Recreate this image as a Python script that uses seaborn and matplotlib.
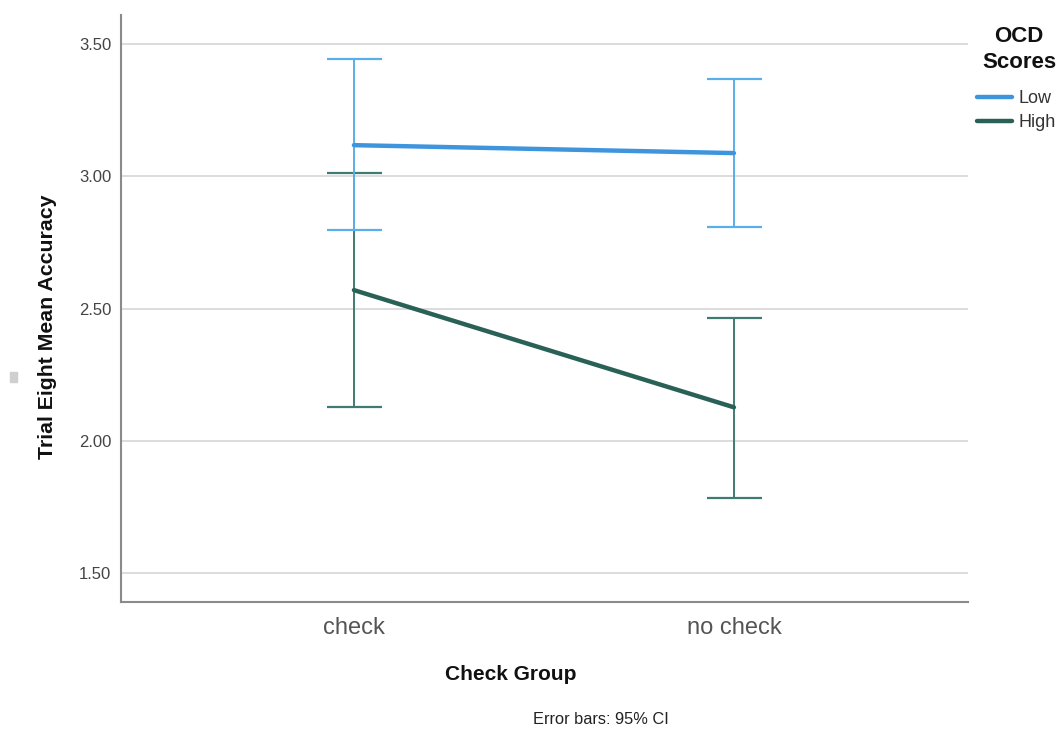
import numpy as np
import pandas as pd
import matplotlib
matplotlib.use("Agg")
import matplotlib.pyplot as plt
from matplotlib.patches import Rectangle
import seaborn as sns

# Estimated marginal means of trial-eight accuracy with 95% CIs
groups = ["check", "no check"]
ocd_levels = ["Low", "High"]
low_mean = [3.118, 3.088]
low_ci_lo = [2.797, 2.808]
low_ci_hi = [3.443, 3.368]
high_mean = [2.570, 2.127]
high_ci_lo = [2.129, 1.785]
high_ci_hi = [3.011, 2.465]
y_ticks = [1.50, 2.00, 2.50, 3.00, 3.50]

line_colors = {"Low": "#3f95dd", "High": "#2a6157"}
bar_colors = {"Low": "#5aaee9", "High": "#3f7b71"}

sns.set_theme(style="white")
plt.rcParams["font.family"] = ["Liberation Sans", "DejaVu Sans"]

df = pd.DataFrame({
    "Check Group": groups * 2,
    "OCD Scores": [ocd_levels[0]] * 2 + [ocd_levels[1]] * 2,
    "mean": low_mean + high_mean,
})

W, H = 1063, 732
fig = plt.figure(figsize=(W / 100, H / 100), dpi=100)
fig.patch.set_facecolor("white")
ax = fig.add_axes([121 / W, 1 - 602 / H, (968 - 121) / W, (602 - 15) / H])

# horizontal reference lines
for t in y_ticks:
    ax.axhline(t, color="#d2d2d2", lw=1.1, zorder=0)

# confidence-interval bars
ci = {
    "Low": (low_mean, low_ci_lo, low_ci_hi),
    "High": (high_mean, high_ci_lo, high_ci_hi),
}
for lvl in ["High", "Low"]:
    m, lo, hi = (np.array(v) for v in ci[lvl])
    ax.errorbar(groups, m, yerr=[m - lo, hi - m], fmt="none",
                ecolor=bar_colors[lvl], elinewidth=1.4, capsize=19.8,
                capthick=1.6, zorder=2)

sns.lineplot(data=df, x="Check Group", y="mean", hue="OCD Scores",
             hue_order=ocd_levels, palette=line_colors, linewidth=3.2,
             sort=False, ax=ax, zorder=3)

ax.set_xlim(-0.613, 1.616)
ax.set_ylim(1.391, 3.61)
ax.set_yticks(y_ticks)
ax.set_yticklabels([f"{t:.2f}" for t in y_ticks])
ax.tick_params(axis="y", length=0, pad=7, labelsize=12, labelcolor="#444444")
ax.tick_params(axis="x", length=0, pad=11, labelsize=17, labelcolor="#555555")
ax.set_xlabel("")
ax.set_ylabel("")
for s in ["top", "right"]:
    ax.spines[s].set_visible(False)
for s in ["left", "bottom"]:
    ax.spines[s].set_color("#8a8a8a")
    ax.spines[s].set_linewidth(1.5)

# legend: title lines drawn separately, entries below
fig.text(1019 / W, 1 - 37 / H, "OCD", ha="center", va="center",
         fontsize=16, fontweight="bold", color="#111111")
fig.text(1019 / W, 1 - 63 / H, "Scores", ha="center", va="center",
         fontsize=16, fontweight="bold", color="#111111")
handles, labels = ax.get_legend_handles_labels()
leg = ax.legend(handles, labels, loc="upper left",
                bbox_to_anchor=(977 / W, 1 - 90 / H),
                bbox_transform=fig.transFigure, frameon=False,
                fontsize=13, handlelength=1.95, handletextpad=0.35,
                labelspacing=0.4, borderpad=0, borderaxespad=0)
for t in leg.get_texts():
    t.set_color("#333333")
for h in leg.legend_handles:
    h.set_linewidth(3.2)

# axis titles and footnote
fig.text(511 / W, 1 - 674 / H, "Check Group", ha="center", va="center",
         fontsize=15, fontweight="bold", color="#111111")
fig.text(48 / W, 1 - 327 / H, "Trial Eight Mean Accuracy", ha="center",
         va="center", rotation=90, fontsize=15.3, fontweight="bold",
         color="#111111")
fig.text(601 / W, 1 - 720 / H, "Error bars: 95% CI", ha="center",
         va="center", fontsize=11.8, color="#222222")

fig.patches.append(Rectangle((10 / W, 1 - 382 / H), 7 / W, 10 / H,
                             transform=fig.transFigure, color="#cfcfcf"))

fig.savefig("out.png", dpi=100)
